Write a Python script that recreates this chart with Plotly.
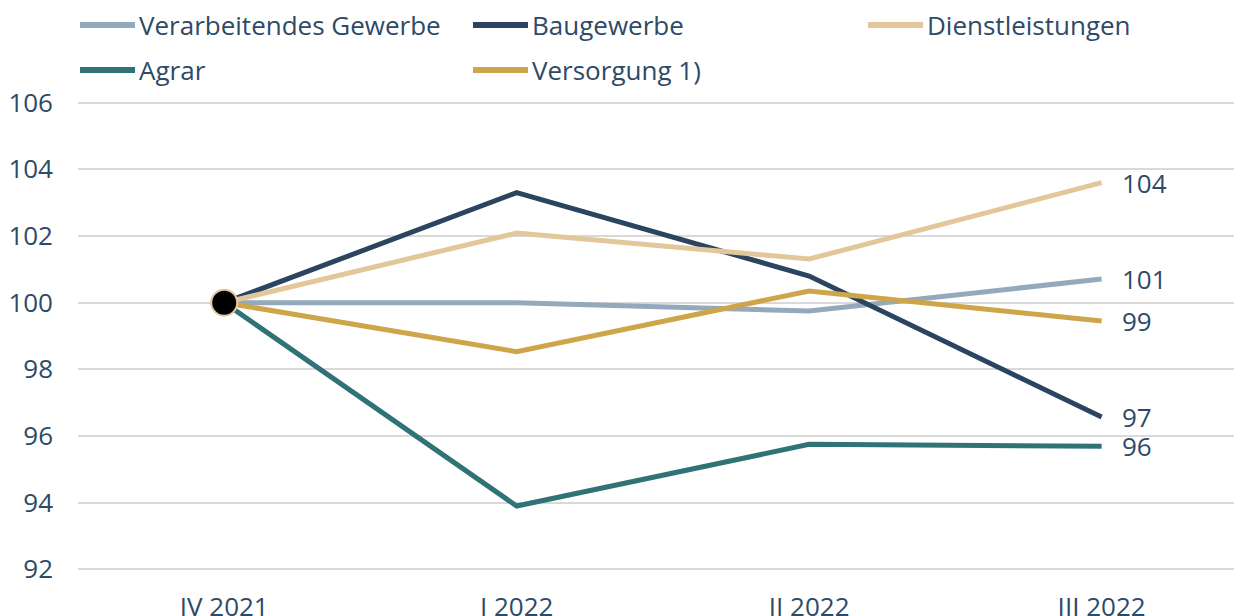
import plotly.graph_objects as go

categories = ["IV 2021", "I 2022", "II 2022", "III 2022"]
series_names = ["Verarbeitendes Gewerbe", "Baugewerbe", "Dienstleistungen", "Agrar", "Versorgung 1)"]
verarbeitendes = [100.0, 100.0, 99.75, 100.71]
baugewerbe = [100.0, 103.3, 100.8, 96.57]
dienstleistungen = [100.0, 102.09, 101.31, 103.6]
agrar = [100.0, 93.9, 95.75, 95.69]
versorgung = [100.0, 98.53, 100.35, 99.45]
series_values = [verarbeitendes, baugewerbe, dienstleistungen, agrar, versorgung]
colors = ["#94a9bc", "#2b4560", "#e3c79b", "#2f7377", "#cea548"]
y_ticks = [92, 94, 96, 98, 100, 102, 104, 106]

TEXT = "#2d4a67"
FONT = "Open Sans"
FS = 26
OFF = 8  # page body margin
W, H = 1242 - OFF, 616 - OFF
ML, MR, MT, MB = 78 - OFF, 0, 101 - OFF, 45
PW, PH = W - ML - MR, H - MT - MB

def px_x(px):
    return (px - OFF - ML) / PW

def px_y(py):
    return (H - MB - (py - OFF)) / PH

fig = go.Figure()
for name, vals, col in zip(series_names, series_values, colors):
    fig.add_trace(go.Scatter(x=categories, y=vals, name=name, mode="lines",
                             line=dict(color=col, width=5), showlegend=False))
    fig.add_annotation(x=categories[-1], y=vals[-1], xref="x", yref="y",
                       text=str(int(round(vals[-1]))), showarrow=False,
                       xanchor="left", yanchor="middle", xshift=18,
                       font=dict(family=FONT, size=FS, color=TEXT))

# start marker
fig.add_trace(go.Scatter(x=[categories[0]], y=[dienstleistungen[0]], mode="markers",
                         marker=dict(size=26, color="#000000", line=dict(color=colors[2], width=2)),
                         showlegend=False))

# custom legend
legend_pos = [(80, 25), (473, 25), (868, 25), (80, 70), (473, 70)]
for (lx, ly), name, col in zip(legend_pos, series_names, colors):
    fig.add_shape(type="line", xref="paper", yref="paper",
                  x0=px_x(lx), x1=px_x(lx + 55), y0=px_y(ly), y1=px_y(ly),
                  line=dict(color=col, width=6))
    fig.add_annotation(xref="paper", yref="paper", x=px_x(lx + 57), y=px_y(ly),
                       text=name, showarrow=False, xanchor="left", yanchor="middle",
                       font=dict(family=FONT, size=FS, color=TEXT))

fig.update_layout(
    width=W, height=H,
    margin=dict(l=ML, r=MR, t=MT, b=MB, autoexpand=False),
    plot_bgcolor="white", paper_bgcolor="white",
    font=dict(family=FONT, size=FS, color=TEXT),
    xaxis=dict(type="category", range=[-0.5, 3.48], showgrid=False, zeroline=False,
               showline=False, ticks="", ticklabelstandoff=18, automargin=False,
               tickfont=dict(family=FONT, size=FS, color=TEXT)),
    yaxis=dict(range=[91.95, 106.05], tickvals=y_ticks, showgrid=True,
               gridcolor="#d9d9d9", gridwidth=2, zeroline=False, showline=False,
               ticks="", ticklabelstandoff=24, automargin=False,
               tickfont=dict(family=FONT, size=FS, color=TEXT)),
)

fig.write_html("out.html")
